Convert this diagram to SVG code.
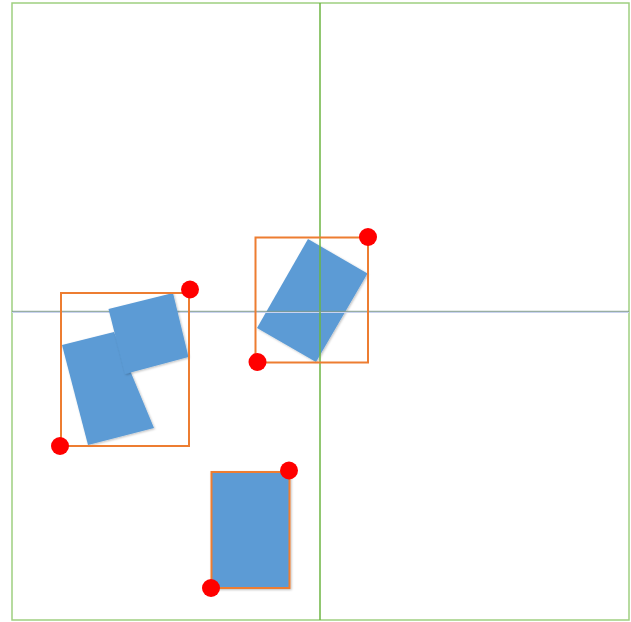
<svg xmlns="http://www.w3.org/2000/svg" width="631" height="622" viewBox="0 0 631 622">
<style>
.frame{fill:none;stroke:#9fcf80;stroke-width:1.5}
.axis{stroke:#6db542;stroke-width:1.5}
.blue{fill:#5b9bd5}
.bbox{fill:none;stroke:#ed7d31;stroke-width:2}
.dot{fill:#ff0000}
</style>
<defs>
<filter id="sh" x="-10%" y="-10%" width="130%" height="130%">
<feDropShadow dx="1" dy="1" stdDeviation="1" flood-color="#000" flood-opacity="0.25"/>
</filter>
</defs>
<rect x="0" y="0" width="631" height="622" fill="#ffffff"/>
<rect class="frame" x="12" y="3" width="617" height="617"/>
<g id="box2-shape">
<polygon class="blue" filter="url(#sh)" points="308,239 367.5,273.5 316,362 257,328"/>
</g>
<g id="axes">
<line x1="12" y1="312.5" x2="629" y2="312.5" stroke="#c9d3f0" stroke-width="1"/>
<line class="axis" x1="320" y1="3" x2="320" y2="620"/>
<line x1="12" y1="311.3" x2="629" y2="311.3" stroke="#7f9a8c" stroke-width="1"/>
</g>
<g id="box2">
<rect class="bbox" x="255.5" y="237.5" width="112.5" height="125"/>
<circle class="dot" cx="368" cy="237" r="9"/>
<circle class="dot" cx="257.5" cy="362" r="9"/>
</g>
<g id="box1">
<polygon class="blue" filter="url(#sh)" points="62,345 114,332 154,428 88,445"/>
<polygon class="blue" filter="url(#sh)" points="108.5,309 173,293 188.5,357 125,374"/>
<rect class="bbox" x="61" y="293" width="128" height="153"/>
<circle class="dot" cx="190" cy="289.5" r="9"/>
<circle class="dot" cx="60" cy="446" r="9"/>
</g>
<g id="box3">
<rect class="blue bbox" filter="url(#sh)" x="211.5" y="472" width="78" height="116" style="fill:#5b9bd5"/>
<circle class="dot" cx="289" cy="470.5" r="9"/>
<circle class="dot" cx="211" cy="588" r="9"/>
</g>
</svg>
